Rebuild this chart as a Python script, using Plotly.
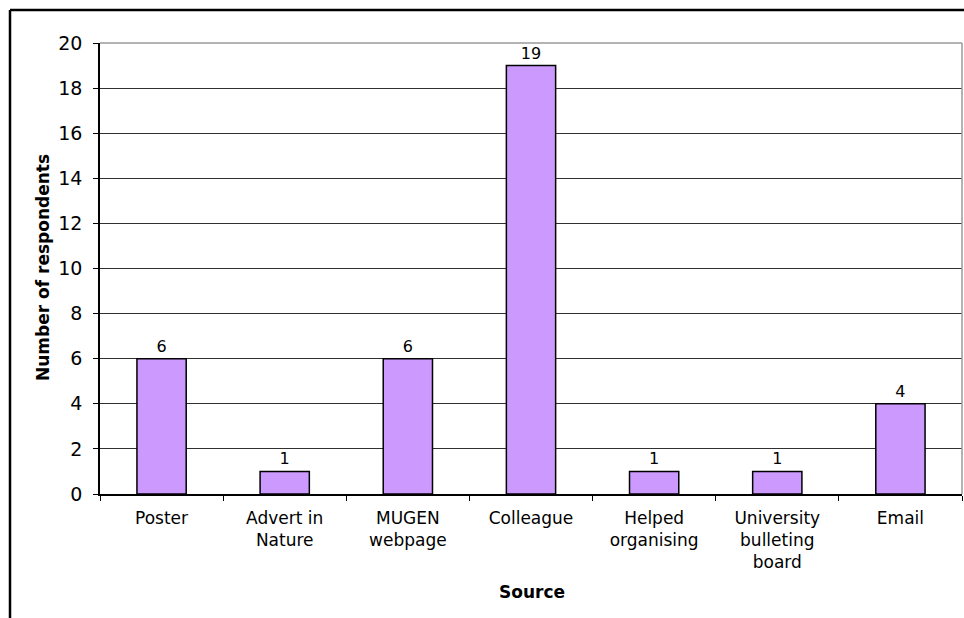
import plotly.graph_objects as go

# Survey: how respondents heard about the event
sources = ["Poster", "Advert in<br>Nature", "MUGEN<br>webpage", "Colleague",
           "Helped<br>organising", "University<br>bulleting<br>board", "Email"]
respondents = [6, 1, 6, 19, 1, 1, 4]
y_ticks = list(range(0, 21, 2))

W, H = 964, 618
ML, MR, MT, MB = 100, 2, 43, 124
FONT = "DejaVu Sans, Verdana, sans-serif"

fig = go.Figure(go.Bar(
    x=sources,
    y=respondents,
    text=[str(v) for v in respondents],
    textposition="outside",
    textfont=dict(family=FONT, size=16, color="black"),
    cliponaxis=False,
    marker=dict(color="#CC99FF", line=dict(color="black", width=1.5)),
    width=0.4,
))

# pixel -> paper helpers for the outer frame
pw, ph = W - ML - MR, H - MT - MB
def px_x(x):
    return (x - ML) / pw
def px_y(y):
    return (H - MB - y) / ph

shapes = [
    # outer chart frame (left and top edges)
    dict(type="line", xref="paper", yref="paper", x0=px_x(10), x1=px_x(980),
         y0=px_y(10), y1=px_y(10), line=dict(color="black", width=2.5)),
    dict(type="line", xref="paper", yref="paper", x0=px_x(10), x1=px_x(10),
         y0=px_y(10), y1=px_y(640), line=dict(color="black", width=2.5)),
    # plot-area border (top and right)
    dict(type="line", xref="paper", yref="paper", x0=0, x1=1, y0=1, y1=1,
         line=dict(color="#9a9a9a", width=1.5)),
    dict(type="line", xref="paper", yref="paper", x0=1, x1=1, y0=0, y1=1,
         line=dict(color="#9a9a9a", width=1.5)),
]

annotations = [
    dict(text="<b>Number of respondents</b>", xref="paper", yref="paper",
         x=px_x(43), y=px_y(268), textangle=-90, showarrow=False,
         font=dict(family=FONT, size=17, color="black"),
         xanchor="center", yanchor="middle"),
    dict(text="<b>Source</b>", xref="paper", yref="paper",
         x=px_x(532), y=px_y(592), showarrow=False,
         font=dict(family=FONT, size=17, color="black"),
         xanchor="center", yanchor="middle"),
]

fig.update_layout(
    width=W, height=H,
    margin=dict(l=ML, r=MR, t=MT, b=MB, autoexpand=False),
    paper_bgcolor="white", plot_bgcolor="white",
    font=dict(family=FONT, color="black"),
    showlegend=False,
    bargap=0.6,
    shapes=shapes,
    annotations=annotations,
    xaxis=dict(
        type="category",
        showline=True, linecolor="black", linewidth=1.5,
        ticks="outside", tickson="boundaries", ticklen=5, tickcolor="black",
        ticklabelstandoff=8,
        tickfont=dict(family=FONT, size=17, color="black"),
        showgrid=False, zeroline=False,
    ),
    yaxis=dict(
        range=[0, 20],
        tickvals=y_ticks,
        showline=True, linecolor="black", linewidth=1.5,
        ticks="outside", ticklen=5, tickcolor="black",
        ticklabelstandoff=7,
        tickfont=dict(family=FONT, size=19, color="black"),
        showgrid=True, gridcolor="#303030", gridwidth=1,
        zeroline=False,
    ),
)

fig.write_html("out.html")
